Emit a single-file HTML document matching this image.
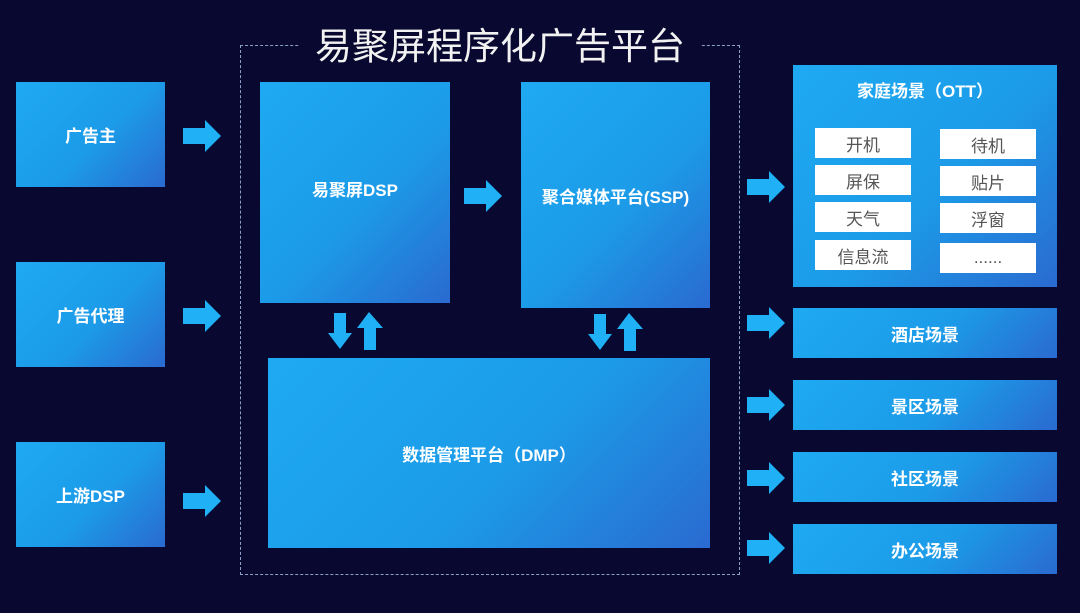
<!DOCTYPE html>
<html><head><meta charset="utf-8"><style>
*{margin:0;padding:0;box-sizing:border-box}
body{width:1080px;height:613px;background:#080830;position:relative;overflow:hidden;font-family:"Liberation Sans","Noto Sans CJK SC",sans-serif}
.b{position:absolute;background:linear-gradient(135deg,#1eaaf2 0%,#1c9be8 55%,#2a6ad0 100%);color:#fff;font-weight:bold;display:flex;align-items:center;justify-content:center;font-size:17px}
.w{position:absolute;background:#fff;color:#555;font-size:17px;display:flex;align-items:center;justify-content:center;width:96px;height:30px}
svg.a{position:absolute}
.t{position:absolute;left:300px;width:400px;top:22px;text-align:center;color:#f2f2f2;font-size:37px;line-height:50px;background:#080830}
.f{position:absolute;left:240px;top:45px;width:500px;height:530px;border:1px dashed #8aa0c8}
</style></head><body>
<div class="f"></div>
<div class="t">易聚屏程序化广告平台</div>

<div class="b" style="left:16px;top:82px;width:149px;height:105px">广告主</div>
<div class="b" style="left:16px;top:262px;width:149px;height:105px">广告代理</div>
<div class="b" style="left:16px;top:442px;width:149px;height:105px">上游DSP</div>

<div class="b" style="left:260px;top:82px;width:190px;height:221px;padding-bottom:8px">易聚屏DSP</div>
<div class="b" style="left:521px;top:82px;width:189px;height:226px">聚合媒体平台(SSP)</div>
<div class="b" style="left:268px;top:358px;width:442px;height:190px">数据管理平台（DMP）</div>

<div class="b" style="left:793px;top:65px;width:264px;height:222px;align-items:flex-start;padding-top:12px">家庭场景（OTT）</div>
<div class="w" style="left:815px;top:128px">开机</div>
<div class="w" style="left:815px;top:165px">屏保</div>
<div class="w" style="left:815px;top:202px">天气</div>
<div class="w" style="left:815px;top:240px">信息流</div>
<div class="w" style="left:940px;top:129px">待机</div>
<div class="w" style="left:940px;top:166px">贴片</div>
<div class="w" style="left:940px;top:203px">浮窗</div>
<div class="w" style="left:940px;top:243px">......</div>

<div class="b" style="left:793px;top:308px;width:264px;height:50px">酒店场景</div>
<div class="b" style="left:793px;top:380px;width:264px;height:50px">景区场景</div>
<div class="b" style="left:793px;top:452px;width:264px;height:50px">社区场景</div>
<div class="b" style="left:793px;top:524px;width:264px;height:50px">办公场景</div>

<svg class="a" width="1080" height="613" style="left:0;top:0">
<defs><polygon id="r" points="0,8 22,8 22,0 38,16 22,32 22,24 0,24" fill="#1fb0f5"/>
<polygon id="d" points="6,0 18,0 18,20 24,20 12,36 0,20 6,20" fill="#1fb0f5"/>
<polygon id="u" points="12,0 26,16 19,16 19,38 7,38 7,16 0,16" fill="#1fb0f5"/></defs>
<use href="#r" x="183" y="120"/>
<use href="#r" x="183" y="300"/>
<use href="#r" x="183" y="485"/>
<use href="#r" x="464" y="180"/>
<use href="#r" x="747" y="171"/>
<use href="#r" x="747" y="307"/>
<use href="#r" x="747" y="389"/>
<use href="#r" x="747" y="462"/>
<use href="#r" x="747" y="532"/>
<use href="#d" x="328" y="313"/>
<use href="#u" x="357" y="312"/>
<use href="#d" x="588" y="314"/>
<use href="#u" x="617" y="313"/>
</svg>
</body></html>
